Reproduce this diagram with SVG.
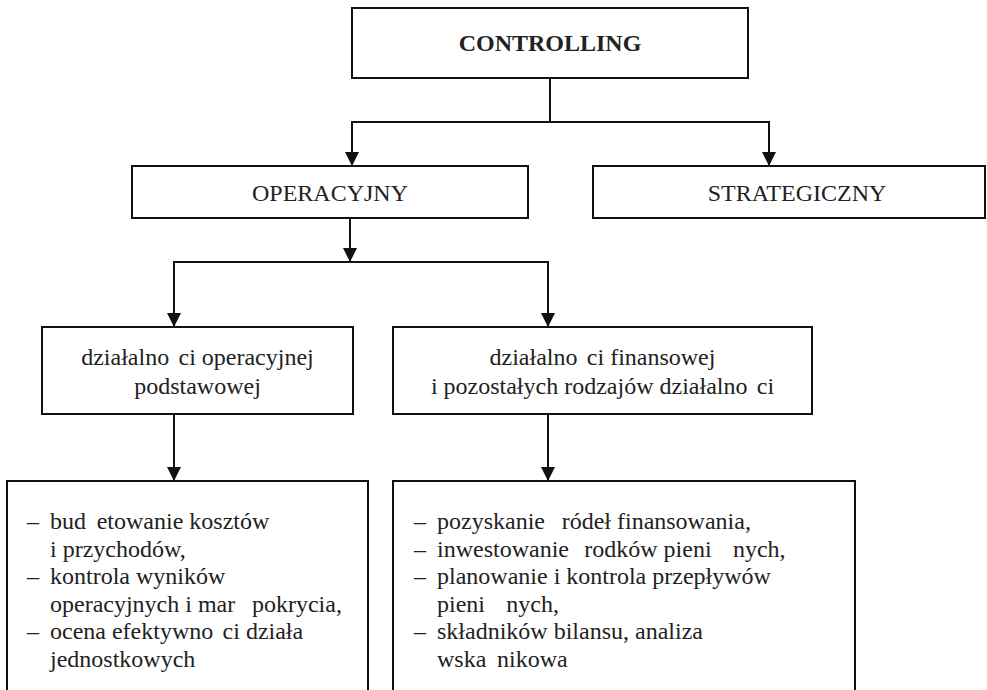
<svg xmlns="http://www.w3.org/2000/svg" width="987" height="690" viewBox="0 0 987 690">
<style>
.box{fill:#fff;stroke:#111;stroke-width:2}
.t{font-family:"Liberation Serif","Times New Roman",serif;font-size:24px;fill:#222}
.c{text-anchor:middle}
.b{font-weight:bold}
.con{fill:none;stroke:#111;stroke-width:2}
</style>
<defs>
<marker id="arr" markerUnits="userSpaceOnUse" markerWidth="14" markerHeight="14" refX="14" refY="7" orient="auto" viewBox="0 0 14 14">
<path d="M0,0 L14,7 L0,14 z" fill="#111"/>
</marker>
</defs>
<rect width="987" height="690" fill="#fff"/>
<g id="connectors">
<path class="con" d="M550,78 V122 H352 V166" marker-end="url(#arr)"/>
<path class="con" d="M550,122 H769 V166" marker-end="url(#arr)"/>
<path class="con" d="M350,218 V262" marker-end="url(#arr)"/>
<path class="con" d="M350,262 H174 V327" marker-end="url(#arr)"/>
<path class="con" d="M350,262 H548 V327" marker-end="url(#arr)"/>
<path class="con" d="M174,414 V481" marker-end="url(#arr)"/>
<path class="con" d="M548,414 V481" marker-end="url(#arr)"/>
</g>
<g id="controlling">
<rect class="box" x="352" y="8" width="396" height="70"/>
<text class="t c b" x="550" y="51">CONTROLLING</text>
</g>
<g id="operacyjny">
<rect class="box" x="132" y="166" width="396" height="52"/>
<text class="t c" x="330" y="201">OPERACYJNY</text>
</g>
<g id="strategiczny">
<rect class="box" x="593" y="166" width="392" height="52"/>
<text class="t c" x="797" y="201">STRATEGICZNY</text>
</g>
<g id="dzial-operacyjnej">
<rect class="box" x="42" y="327" width="311" height="87"/>
<text class="t c" x="197.5" y="365" xml:space="preserve">działalno <tspan dx="3.3">ci operacyjnej</tspan></text>
<text class="t c" x="197.5" y="394">podstawowej</text>
</g>
<g id="dzial-finansowej">
<rect class="box" x="393" y="327" width="419" height="87"/>
<text class="t c" x="602.5" y="365" xml:space="preserve">działalno <tspan dx="3.3">ci finansowej</tspan></text>
<text class="t c" x="602.5" y="394" xml:space="preserve">i pozostałych rodzajów działalno <tspan dx="3.3">ci</tspan></text>
</g>
<g id="zadania-operacyjne">
<rect class="box" x="7" y="481" width="361" height="240"/>
<text class="t" x="27" y="529">–</text>
<text class="t" x="50" y="529" xml:space="preserve">bud <tspan dx="4.7">etowanie kosztów</tspan></text>
<text class="t" x="50" y="556.6">i przychodów,</text>
<text class="t" x="27" y="584.2">–</text>
<text class="t" x="50" y="584.2">kontrola wyników</text>
<text class="t" x="50" y="611.8" xml:space="preserve">operacyjnych i mar  <tspan dx="4.7">pokrycia,</tspan></text>
<text class="t" x="27" y="639.4">–</text>
<text class="t" x="50" y="639.4" xml:space="preserve">ocena efektywno <tspan dx="3.3">ci działa</tspan></text>
<text class="t" x="50" y="667">jednostkowych</text>
</g>
<g id="zadania-finansowe">
<rect class="box" x="393" y="481" width="462" height="240"/>
<text class="t" x="414" y="529">–</text>
<text class="t" x="437" y="529" xml:space="preserve">pozyskanie  <tspan dx="4.7">ródeł finansowania,</tspan></text>
<text class="t" x="414" y="556.6">–</text>
<text class="t" x="437" y="556.6" xml:space="preserve">inwestowanie  <tspan dx="3.3">rodków pieni</tspan>   <tspan dx="3.3">nych,</tspan></text>
<text class="t" x="414" y="584.2">–</text>
<text class="t" x="437" y="584.2">planowanie i kontrola przepływów</text>
<text class="t" x="437" y="611.8" xml:space="preserve">pieni   <tspan dx="3.3">nych,</tspan></text>
<text class="t" x="414" y="639.4">–</text>
<text class="t" x="437" y="639.4">składników bilansu, analiza</text>
<text class="t" x="437" y="667" xml:space="preserve">wska <tspan dx="4.7">nikowa</tspan></text>
</g>
</svg>
